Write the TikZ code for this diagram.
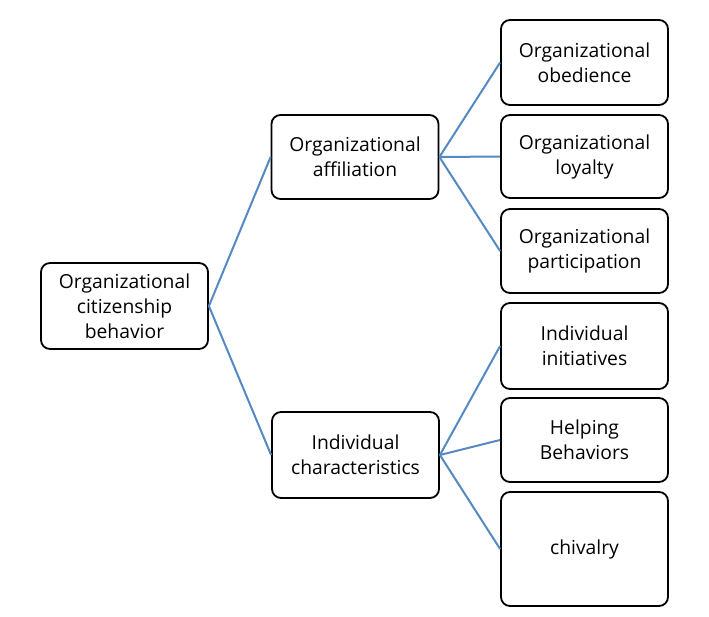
\documentclass[tikz,border=0pt]{standalone}
\usepackage{fontspec}
\setmainfont{Open Sans}
\definecolor{linkblue}{RGB}{84,137,196}
\begin{document}
\begin{tikzpicture}[x=1pt,y=-1pt,
    box/.style={draw=black,line width=1.8pt,rounded corners=9pt,align=center,
        minimum width=167pt,text width=160pt,inner sep=0pt,
        font=\fontsize{19.3}{25}\selectfont},
    link/.style={draw=linkblue,line width=2pt}]
    \useasboundingbox (0,0) rectangle (709,616);
    \node (ocb) [box,minimum height=86pt] at (124.5,306) {Organizational\\citizenship\\behavior};
    \node (affil) [box,minimum height=84pt] at (355,157) {Organizational\\affiliation};
    \node (chars) [box,minimum height=86pt] at (355.5,455) {Individual\\characteristics};
    \node (obed) [box,minimum height=85pt] at (584.5,62.5) {Organizational\\obedience};
    \node (loyal) [box,minimum height=83pt] at (584.5,156.5) {Organizational\\loyalty};
    \node (partic) [box,minimum height=84pt] at (584.5,251) {Organizational\\participation};
    \node (initv) [box,minimum height=86pt] at (584.5,346) {Individual\\initiatives};
    \node (helpb) [box,minimum height=84pt] at (584.5,440) {Helping\\Behaviors};
    \node (chiv) [box,minimum height=114pt] at (584.5,549) {chivalry};
    \draw [link] (ocb.east) -- (affil.west);
    \draw [link] (ocb.east) -- (chars.west);
    \foreach \leaf in {obed,loyal,partic}
        \draw [link] (affil.east) -- (\leaf.west);
    \foreach \leaf in {initv,helpb,chiv}
        \draw [link] (chars.east) -- (\leaf.west);
\end{tikzpicture}
\end{document}
